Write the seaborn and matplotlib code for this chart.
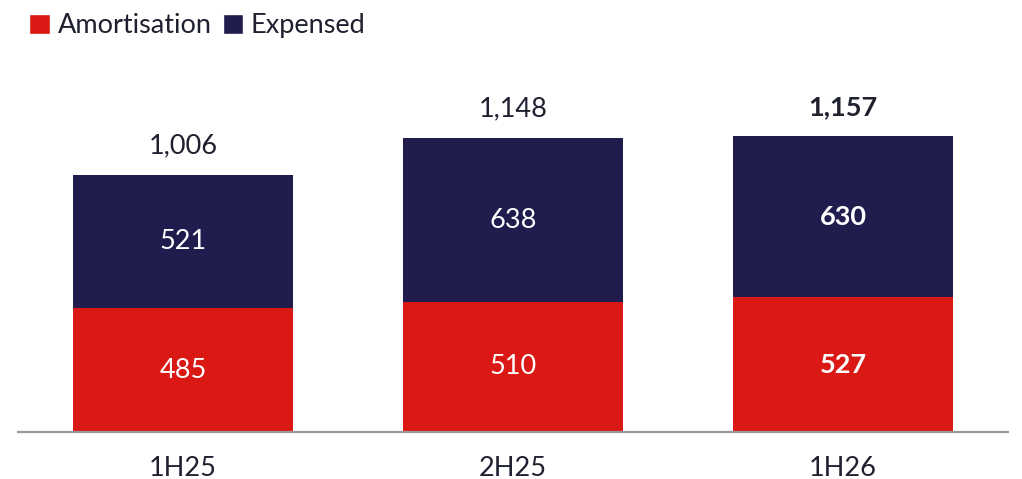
import matplotlib

matplotlib.use("Agg")
import matplotlib.pyplot as plt
import pandas as pd
import seaborn as sns
from matplotlib.patches import Patch

periods = ["1H25", "2H25", "1H26"]
amortisation = [485, 510, 527]
expensed = [521, 638, 630]
bold_flags = [False, False, True]

RED = "#DA1914"
NAVY = "#201C4E"
TEXT = "#1F2130"
FS = 19.5

sns.set_theme(style="white")
plt.rcParams["font.family"] = ["Lato", "DejaVu Sans"]

df = pd.DataFrame({"period": periods, "amort": amortisation, "exp": expensed})
df["total"] = df["amort"] + df["exp"]

fig = plt.figure(figsize=(10.22, 4.79), dpi=100)
ax = fig.add_axes([18 / 1022, 47 / 479, 990 / 1022, 372 / 479])

sns.barplot(data=df, x="period", y="total", color=NAVY, width=0.664, saturation=1,
            linewidth=0, ax=ax)
sns.barplot(data=df, x="period", y="amort", color=RED, width=0.664, saturation=1,
            linewidth=0, ax=ax)

for i, row in df.iterrows():
    w = "bold" if bold_flags[i] else "normal"
    ax.text(i, row["amort"] / 2, f"{row['amort']:,}", ha="center", va="center",
            color="white", fontsize=FS, fontweight=w)
    ax.text(i, row["amort"] + row["exp"] / 2, f"{row['exp']:,}", ha="center", va="center",
            color="white", fontsize=FS, fontweight=w)
    ax.text(i, row["total"] + 115, f"{row['total']:,}", ha="center", va="center",
            color=TEXT, fontsize=FS, fontweight=w)

ax.set_xlim(-0.5, 2.5)
ax.set_ylim(0, 1455)
ax.set_xlabel("")
ax.set_ylabel("")
ax.set_yticks([])
ax.tick_params(axis="x", length=0, labelsize=FS, labelcolor=TEXT, pad=17)
for side in ("top", "right", "left"):
    ax.spines[side].set_visible(False)
ax.spines["bottom"].set_color("#9A9A9A")
ax.spines["bottom"].set_linewidth(1.6)

handles = [Patch(facecolor=RED, label="Amortisation"), Patch(facecolor=NAVY, label="Expensed")]
fig.legend(handles=handles, loc="upper left", bbox_to_anchor=(0.018, 0.995), ncol=2, frameon=False,
           fontsize=FS, handlelength=0.75, handleheight=0.75, handletextpad=0.3, columnspacing=0.4,
           labelcolor=TEXT, borderaxespad=0)

fig.savefig("out.png", dpi=100)
